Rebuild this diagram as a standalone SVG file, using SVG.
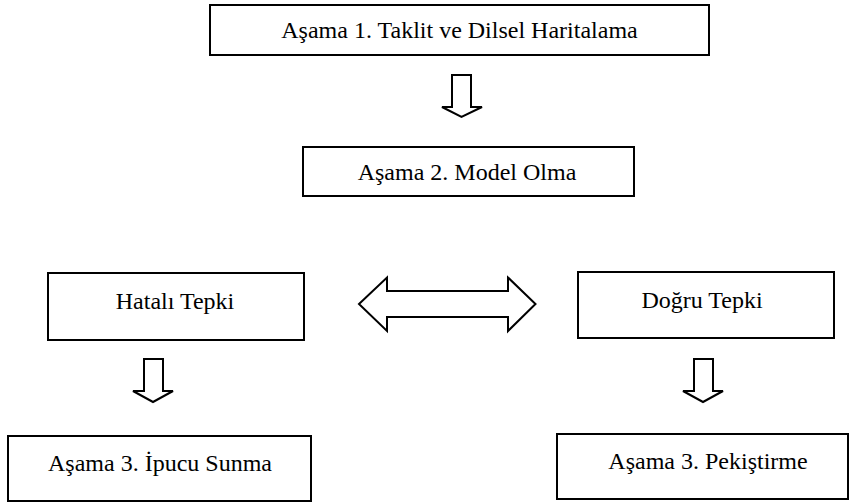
<svg xmlns="http://www.w3.org/2000/svg" width="850" height="502" viewBox="0 0 850 502">
<style>
.box{fill:#fff;stroke:#000;stroke-width:2}
.arr{fill:#fff;stroke:#000;stroke-width:2;stroke-linejoin:miter}
.t{font-family:'Liberation Serif','Times New Roman',serif;font-size:24px;fill:#000;text-anchor:middle}
</style>
<rect width="850" height="502" fill="#fff"/>
<g id="connectors">
<path class="arr" d="M452,75 H471 V107 H482 L461.5,117 L442,107 H452 Z"/>
<path class="arr" d="M144,359 H163 V391 H173 L153,402 L133,391 H144 Z"/>
<path class="arr" d="M694,359 H713 V391 H723 L703,402 L683,391 H694 Z"/>
<path class="arr" d="M359,304 L387,277.5 V291 H508 V277.5 L535.5,304 L508,331 V317 H387 V331 Z"/>
</g>
<g id="stage1">
<rect class="box" x="210" y="5" width="499" height="50"/>
<text class="t" x="459.5" y="38">Aşama 1. Taklit ve Dilsel Haritalama</text>
</g>
<g id="stage2">
<rect class="box" x="303" y="147" width="331" height="49"/>
<text class="t" x="467" y="180">Aşama 2. Model Olma</text>
</g>
<g id="hatali">
<rect class="box" x="48" y="273" width="256" height="67"/>
<text class="t" x="175" y="309">Hatalı Tepki</text>
</g>
<g id="dogru">
<rect class="box" x="578" y="272" width="256" height="66"/>
<text class="t" x="702" y="308">Doğru Tepki</text>
</g>
<g id="ipucu">
<rect class="box" x="8" y="436" width="303" height="65"/>
<text class="t" x="160" y="471">Aşama 3. İpucu Sunma</text>
</g>
<g id="pekistirme">
<rect class="box" x="557" y="434" width="291" height="65"/>
<text class="t" x="708" y="469">Aşama 3. Pekiştirme</text>
</g>
</svg>
